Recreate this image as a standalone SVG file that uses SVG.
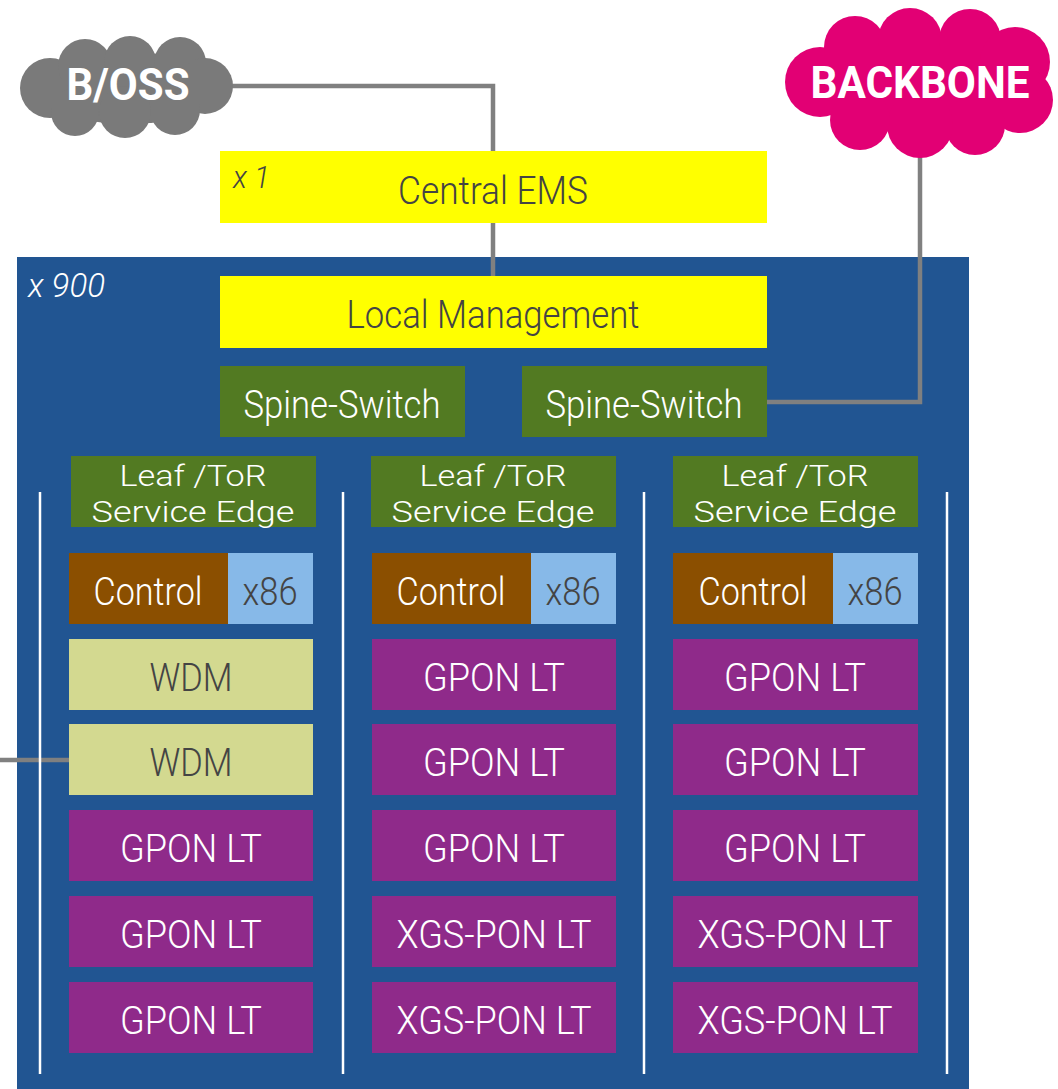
<svg xmlns="http://www.w3.org/2000/svg" width="1058" height="1089" viewBox="0 0 1058 1089">
<style>
text{font-family:Roboto,"Liberation Sans",sans-serif;font-weight:300;text-anchor:middle}
.w{fill:#ffffff}
.d{fill:#444444}
.big{font-size:39px}
.lf{font-size:30px}
.cl{font-weight:700;font-size:45px;fill:#ffffff;dominant-baseline:central}
.it{font-style:italic;text-anchor:start}
.ylw{fill:#ffff00}
.grn{fill:#527a22}
.brn{fill:#8b4f00}
.lb{fill:#87b9e8}
.wdm{fill:#d3d990}
.pur{fill:#8f2a8a}
.vl{stroke:#ffffff;stroke-width:2.5}
.cn{fill:none;stroke:#808080;stroke-width:4.5}
</style>
<g id="container">
<rect x="17" y="257" width="952" height="832" fill="#215592"/>
<text class="it w" x="28" y="297" font-size="34" textLength="77" lengthAdjust="spacingAndGlyphs">x 900</text>
</g>
<g id="connectors">
<polyline class="cn" points="230,86 493,86 493,276"/>
<polyline class="cn" points="920,150 920,402 767,402"/>
<line class="cn" x1="0" y1="760" x2="69" y2="760"/>
</g>
<g id="boss">
<g fill="#7a7a7a">
<ellipse cx="128" cy="88" rx="92" ry="36"/>
<circle cx="50" cy="88" r="30"/>
<circle cx="85" cy="66" r="27"/>
<circle cx="130" cy="62" r="26"/>
<circle cx="180" cy="63" r="26"/>
<circle cx="205" cy="86" r="28"/>
<circle cx="175" cy="110" r="25"/>
<circle cx="125" cy="112" r="26"/>
<circle cx="75" cy="112" r="24"/>
</g>
<text class="cl" x="128" y="84" textLength="123" lengthAdjust="spacingAndGlyphs">B/OSS</text>
</g>
<g id="backbone">
<g fill="#e20074">
<ellipse cx="920" cy="82" rx="120" ry="50"/>
<circle cx="820" cy="82" r="35"/>
<circle cx="855" cy="47" r="31"/>
<circle cx="910" cy="40" r="32"/>
<circle cx="970" cy="40" r="31"/>
<circle cx="1015" cy="62" r="35"/>
<circle cx="1020" cy="100" r="33"/>
<circle cx="975" cy="125" r="30"/>
<circle cx="920" cy="125" r="33"/>
<circle cx="860" cy="120" r="30"/>
</g>
<text class="cl" x="920" y="82" textLength="219" lengthAdjust="spacingAndGlyphs">BACKBONE</text>
</g>
<g id="central-ems">
<rect class="ylw" x="220" y="151" width="547" height="72"/>
<text class="it d" x="233" y="188" font-size="31" textLength="37" lengthAdjust="spacingAndGlyphs">x 1</text>
<text class="big d" x="493" y="204" textLength="190" lengthAdjust="spacingAndGlyphs">Central EMS</text>
</g>
<g id="local-management">
<rect class="ylw" x="220" y="276" width="547" height="72"/>
<text class="big d" x="493" y="328" textLength="293" lengthAdjust="spacingAndGlyphs">Local Management</text>
</g>
<g id="spine-1">
<rect class="grn" x="220" y="366" width="245" height="71"/>
<text class="big w" x="342" y="418" textLength="197" lengthAdjust="spacingAndGlyphs">Spine-Switch</text>
</g>
<g id="spine-2">
<rect class="grn" x="522" y="366" width="245" height="71"/>
<text class="big w" x="644" y="418" textLength="197" lengthAdjust="spacingAndGlyphs">Spine-Switch</text>
</g>
<g id="dividers">
<line class="vl" x1="40" y1="492" x2="40" y2="1074"/>
<line class="vl" x1="343" y1="492" x2="343" y2="1074"/>
<line class="vl" x1="644" y1="492" x2="644" y2="1074"/>
<line class="vl" x1="947" y1="492" x2="947" y2="1074"/>
</g>
<g id="leaf-1">
<rect class="grn" x="71" y="456" width="245" height="71"/>
<text class="lf w" x="193" y="486" textLength="147" lengthAdjust="spacingAndGlyphs">Leaf /ToR</text>
<text class="lf w" x="193" y="522" textLength="203" lengthAdjust="spacingAndGlyphs">Service Edge</text>
</g>
<g id="leaf-2">
<rect class="grn" x="371" y="456" width="245" height="71"/>
<text class="lf w" x="493" y="486" textLength="147" lengthAdjust="spacingAndGlyphs">Leaf /ToR</text>
<text class="lf w" x="493" y="522" textLength="203" lengthAdjust="spacingAndGlyphs">Service Edge</text>
</g>
<g id="leaf-3">
<rect class="grn" x="673" y="456" width="245" height="71"/>
<text class="lf w" x="795" y="486" textLength="147" lengthAdjust="spacingAndGlyphs">Leaf /ToR</text>
<text class="lf w" x="795" y="522" textLength="203" lengthAdjust="spacingAndGlyphs">Service Edge</text>
</g>
<g id="control-1">
<rect class="brn" x="69" y="553" width="159" height="71"/>
<rect class="lb" x="228" y="553" width="85" height="71"/>
<text class="big w" x="148" y="605" textLength="109" lengthAdjust="spacingAndGlyphs">Control</text>
<text class="big d" x="270" y="605" textLength="55" lengthAdjust="spacingAndGlyphs">x86</text>
</g>
<g id="control-2">
<rect class="brn" x="372" y="553" width="159" height="71"/>
<rect class="lb" x="531" y="553" width="85" height="71"/>
<text class="big w" x="451" y="605" textLength="109" lengthAdjust="spacingAndGlyphs">Control</text>
<text class="big d" x="573" y="605" textLength="55" lengthAdjust="spacingAndGlyphs">x86</text>
</g>
<g id="control-3">
<rect class="brn" x="673" y="553" width="160" height="71"/>
<rect class="lb" x="833" y="553" width="85" height="71"/>
<text class="big w" x="753" y="605" textLength="109" lengthAdjust="spacingAndGlyphs">Control</text>
<text class="big d" x="875" y="605" textLength="55" lengthAdjust="spacingAndGlyphs">x86</text>
</g>
<g id="c1-wdm-1"><rect class="wdm" x="69" y="639" width="244" height="71"/><text class="big d" x="191" y="691" textLength="83" lengthAdjust="spacingAndGlyphs">WDM</text></g>
<g id="c1-wdm-2"><rect class="wdm" x="69" y="724" width="244" height="71"/><text class="big d" x="191" y="776" textLength="83" lengthAdjust="spacingAndGlyphs">WDM</text></g>
<g id="c1-gpon-1"><rect class="pur" x="69" y="810" width="244" height="71"/><text class="big w" x="191" y="862" textLength="142" lengthAdjust="spacingAndGlyphs">GPON LT</text></g>
<g id="c1-gpon-2"><rect class="pur" x="69" y="896" width="244" height="71"/><text class="big w" x="191" y="948" textLength="142" lengthAdjust="spacingAndGlyphs">GPON LT</text></g>
<g id="c1-gpon-3"><rect class="pur" x="69" y="982" width="244" height="71"/><text class="big w" x="191" y="1034" textLength="142" lengthAdjust="spacingAndGlyphs">GPON LT</text></g>
<g id="c2-gpon-1"><rect class="pur" x="372" y="639" width="244" height="71"/><text class="big w" x="494" y="691" textLength="142" lengthAdjust="spacingAndGlyphs">GPON LT</text></g>
<g id="c2-gpon-2"><rect class="pur" x="372" y="724" width="244" height="71"/><text class="big w" x="494" y="776" textLength="142" lengthAdjust="spacingAndGlyphs">GPON LT</text></g>
<g id="c2-gpon-3"><rect class="pur" x="372" y="810" width="244" height="71"/><text class="big w" x="494" y="862" textLength="142" lengthAdjust="spacingAndGlyphs">GPON LT</text></g>
<g id="c2-xgs-1"><rect class="pur" x="372" y="896" width="244" height="71"/><text class="big w" x="494" y="948" textLength="195" lengthAdjust="spacingAndGlyphs">XGS-PON LT</text></g>
<g id="c2-xgs-2"><rect class="pur" x="372" y="982" width="244" height="71"/><text class="big w" x="494" y="1034" textLength="195" lengthAdjust="spacingAndGlyphs">XGS-PON LT</text></g>
<g id="c3-gpon-1"><rect class="pur" x="673" y="639" width="245" height="71"/><text class="big w" x="795" y="691" textLength="142" lengthAdjust="spacingAndGlyphs">GPON LT</text></g>
<g id="c3-gpon-2"><rect class="pur" x="673" y="724" width="245" height="71"/><text class="big w" x="795" y="776" textLength="142" lengthAdjust="spacingAndGlyphs">GPON LT</text></g>
<g id="c3-gpon-3"><rect class="pur" x="673" y="810" width="245" height="71"/><text class="big w" x="795" y="862" textLength="142" lengthAdjust="spacingAndGlyphs">GPON LT</text></g>
<g id="c3-xgs-1"><rect class="pur" x="673" y="896" width="245" height="71"/><text class="big w" x="795" y="948" textLength="195" lengthAdjust="spacingAndGlyphs">XGS-PON LT</text></g>
<g id="c3-xgs-2"><rect class="pur" x="673" y="982" width="245" height="71"/><text class="big w" x="795" y="1034" textLength="195" lengthAdjust="spacingAndGlyphs">XGS-PON LT</text></g>
</svg>
